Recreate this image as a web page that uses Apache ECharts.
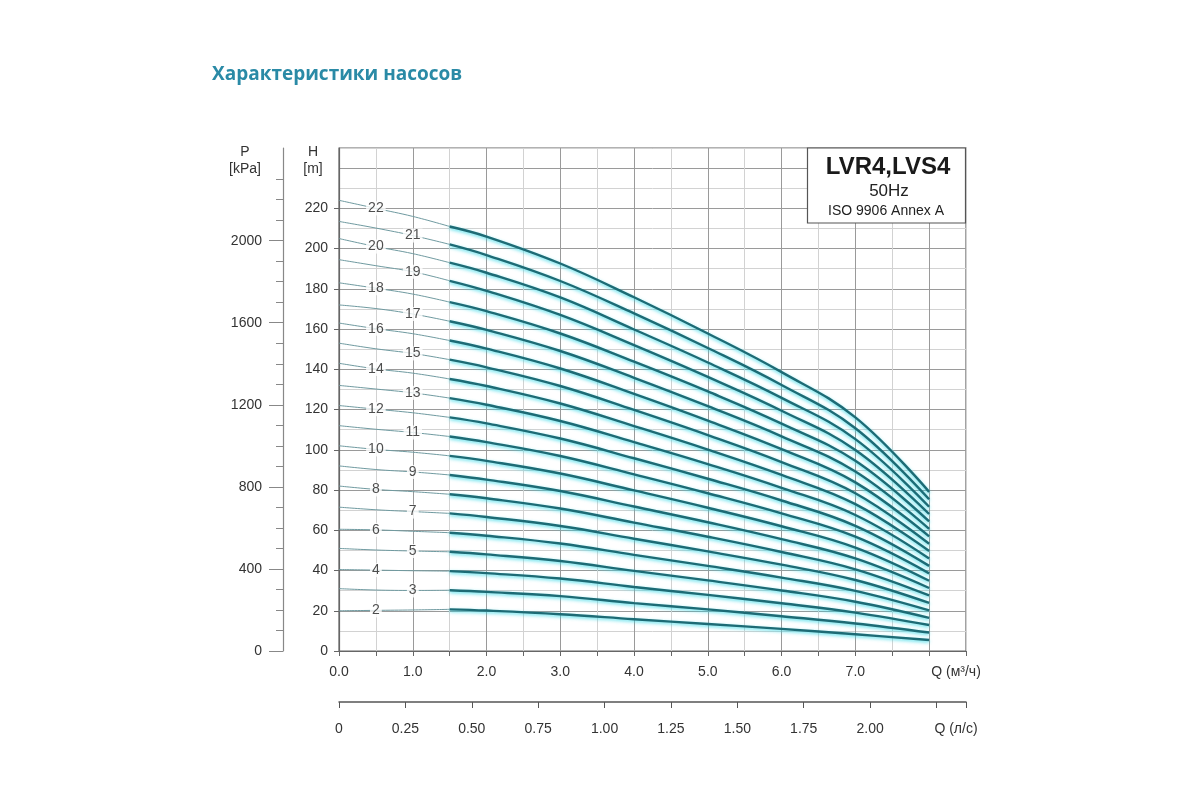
<!DOCTYPE html>
<html>
<head>
<meta charset="utf-8">
<script src="https://cdn.jsdelivr.net/npm/echarts@6/dist/echarts.min.js"></script>
<style>html,body{margin:0;padding:0;background:#fff}#c{width:1200px;height:800px}</style>
</head>
<body>
<div id="c"></div>
<script>
// Flow points (m³/h)
const flowQ = [0, 0.5, 1, 1.5, 2, 3, 4, 5, 6, 7, 8];
// Head (m) per number of stages at the flow points above
const h2  = [20, 20.2, 20.4, 20.7, 20.1, 18.3, 15.8, 13.4, 11.0, 8.3, 5.5];
const h3  = [31, 30.3, 30.1, 30.2, 29.4, 27.3, 23.8, 20.7, 17.3, 13.7, 9.2];
const h4  = [40.5, 40.2, 39.9, 39.7, 38.7, 36.0, 31.8, 27.9, 23.7, 19.1, 12.9];
const h5  = [51, 50.2, 49.7, 49.3, 48.0, 44.7, 39.8, 35.1, 30.1, 24.5, 16.5];
const h6  = [60.5, 60.2, 59.5, 58.8, 57.3, 53.4, 47.8, 42.3, 36.5, 29.9, 20.2];
const h7  = [71.5, 70.2, 69.3, 68.4, 66.6, 62.1, 55.8, 49.5, 42.9, 35.3, 23.9];
const h8  = [82, 80.3, 79.2, 77.9, 75.9, 70.8, 63.8, 56.8, 49.2, 40.6, 27.6];
const h9  = [92, 90.2, 89.0, 87.5, 85.2, 79.5, 71.8, 64.0, 55.6, 46.0, 31.3];
const h10 = [102, 100.2, 98.8, 97.0, 94.5, 88.2, 79.8, 71.2, 62.0, 51.4, 34.9];
const h11 = [112, 110.2, 108.6, 106.6, 103.8, 96.9, 87.8, 78.4, 68.4, 56.8, 38.6];
const h12 = [122, 120.2, 118.4, 116.1, 113.1, 105.6, 95.8, 85.6, 74.8, 62.2, 42.3];
const h13 = [132, 130.2, 128.3, 125.7, 122.4, 114.3, 103.8, 92.9, 81.1, 67.6, 46.0];
const h14 = [143, 140.2, 138.1, 135.2, 131.7, 123.0, 111.8, 100.1, 87.5, 73.0, 49.7];
const h15 = [153, 150.2, 147.9, 144.8, 141.0, 131.7, 119.8, 107.3, 93.9, 78.4, 53.3];
const h16 = [163, 160.2, 157.7, 154.3, 150.3, 140.4, 127.8, 114.5, 100.3, 83.8, 57.0];
const h17 = [172, 170.2, 167.5, 163.9, 159.6, 149.1, 135.8, 121.7, 106.7, 89.2, 60.7];
const h18 = [183, 180.3, 177.4, 173.4, 168.9, 157.8, 143.8, 129.0, 113.0, 94.5, 64.4];
const h19 = [194.5, 191.5, 188.5, 184, 179, 167, 152, 136.2, 119.4, 99.9, 68.1];
const h20 = [205, 201, 197.5, 193, 188, 175.7, 159.8, 143.4, 125.8, 105.3, 71.7];
const h21 = [213.5, 210.2, 206.5, 202.1, 196.8, 183.9, 167.8, 150.6, 132.2, 110.7, 75.4];
const h22 = [224, 220, 216, 211, 206, 192.6, 175.8, 157.8, 138.6, 116.1, 79.1];
const stages = [2, 3, 4, 5, 6, 7, 8, 9, 10, 11, 12, 13, 14, 15, 16, 17, 18, 19, 20, 21, 22];
const curves = [h2, h3, h4, h5, h6, h7, h8, h9, h10, h11, h12, h13, h14, h15, h16, h17, h18, h19, h20, h21, h22];

// Tick labels
const hTicks = [0, 20, 40, 60, 80, 100, 120, 140, 160, 180, 200, 220];
const pTicks = [0, 400, 800, 1200, 1600, 2000];
const pMinorTicks = [100, 200, 300, 500, 600, 700, 900, 1000, 1100, 1300, 1400, 1500, 1700, 1800, 1900, 2100, 2200, 2300];
const titleText = 'Характеристики насосов';
const boxLines = ['LVR4,LVS4', '50Hz', 'ISO 9906 Annex A'];

const H_MAX = 250;               // m
const KPA_PER_M = 1 / 0.10197;   // kPa per metre of water
const P_MAX = H_MAX * KPA_PER_M;
const Q_MAX = 8.5;               // m³/h
const QLS_MAX = Q_MAX / 3.6;     // l/s
const splitFrom = 3;             // index of Q = 1.5 where the solid part starts

const FONT = '"Liberation Sans", Arial, sans-serif';
const FS = 14;
const series = [];
curves.forEach((h) => {
  const pts = flowQ.map((q, i) => [q, h[i]]);
  series.push({
    type: 'line', xAxisIndex: 0, yAxisIndex: 0, smooth: 0.4, symbol: 'none', silent: true, z: 2,
    lineStyle: { color: '#6f9aa0', width: 1 },
    data: pts.slice(0, splitFrom + 1)
  });
  series.push({
    type: 'line', xAxisIndex: 0, yAxisIndex: 0, smooth: 0.4, symbol: 'none', silent: true, z: 3,
    lineStyle: { color: '#1d6b75', width: 2.4, shadowColor: 'rgba(40,215,230,0.8)', shadowBlur: 3.5, shadowOffsetY: 1.5 },
    data: pts.slice(splitFrom)
  });
});
series.push({
  type: 'scatter', xAxisIndex: 0, yAxisIndex: 0, symbol: 'circle', symbolSize: 1, silent: true, z: 6,
  itemStyle: { color: 'rgba(0,0,0,0)' },
  label: {
    show: true, position: 'inside', formatter: p => p.data[2],
    backgroundColor: '#fff', padding: [0, 2], fontSize: FS, color: '#222', fontFamily: FONT
  },
  data: curves.map((h, k) => {
    const i = stages[k] % 2 === 0 ? 1 : 2;
    return [flowQ[i], h[i], String(stages[k])];
  })
});

const labelStyle = { fontSize: FS, color: '#333', fontFamily: FONT };

const option = {
  animation: false,
  backgroundColor: '#fff',
  title: {
    text: titleText, left: 207, top: 60,
    textStyle: { fontSize: 19, fontWeight: 'bold', color: '#2a8aa6', fontFamily: '"Open Sans", sans-serif' }
  },
  grid: [
    { left: 339, right: 234, top: 148, bottom: 149, show: true, borderColor: '#666', borderWidth: 1.2 },
    { left: 339, right: 234, top: 700, height: 2 }
  ],
  xAxis: [
    {
      gridIndex: 0, type: 'value', min: 0, max: Q_MAX, interval: 0.5,
      axisLine: { lineStyle: { color: '#666', width: 1.2 } },
      axisTick: { length: 5, lineStyle: { color: '#666' } },
      axisLabel: Object.assign({ margin: 14, formatter: v => (Number.isInteger(v) && v < 8) ? v.toFixed(1) : '' }, labelStyle),
      splitLine: { show: true, lineStyle: { color: ['#9a9a9a', '#d2d2d2'], width: 1 } },
      name: 'Q (м³/ч)', nameLocation: 'end', nameGap: -10,
      nameTextStyle: Object.assign({ align: 'center', verticalAlign: 'top', padding: [14, 0, 0, 0] }, labelStyle)
    },
    {
      gridIndex: 1, type: 'value', min: 0, max: QLS_MAX, interval: 0.25, position: 'bottom',
      axisLine: { lineStyle: { color: '#555', width: 1.5 } },
      axisTick: { length: 6, lineStyle: { color: '#555' } },
      axisLabel: Object.assign({ margin: 20, formatter: v => v === 0 ? '0' : (v <= 2.001 ? v.toFixed(2) : '') }, labelStyle),
      splitLine: { show: false },
      name: 'Q (л/с)', nameLocation: 'end', nameGap: -10,
      nameTextStyle: Object.assign({ align: 'center', verticalAlign: 'top', padding: [20, 0, 0, 0] }, labelStyle)
    }
  ],
  yAxis: [
    {
      gridIndex: 0, type: 'value', min: 0, max: H_MAX, interval: 10, position: 'left',
      axisLine: { show: true, lineStyle: { color: '#666', width: 1.2 } },
      axisTick: { show: false },
      axisLabel: Object.assign({ margin: 11, formatter: v => hTicks.includes(v) ? String(v) : '' }, labelStyle),
      splitLine: { show: true, lineStyle: { color: ['#9a9a9a', '#d2d2d2'], width: 1 } }
    },
    {
      gridIndex: 0, type: 'value', min: 0, max: H_MAX, interval: 20, position: 'left',
      axisLine: { show: false },
      axisTick: { show: true, length: 5, lineStyle: { color: '#666' }, customValues: hTicks },
      axisLabel: { show: false },
      splitLine: { show: false }
    },
    {
      gridIndex: 0, type: 'value', min: 0, max: P_MAX, interval: 400, position: 'left', offset: 56,
      axisLine: { show: true, lineStyle: { color: '#888', width: 1.2 } },
      axisTick: { show: true, length: 14, lineStyle: { color: '#888' }, customValues: pTicks },
      axisLabel: Object.assign({ margin: 21, customValues: pTicks, formatter: v => String(Math.round(v)) }, labelStyle),
      splitLine: { show: false }
    },
    {
      gridIndex: 0, type: 'value', min: 0, max: P_MAX, interval: 100, position: 'left', offset: 56,
      axisLine: { show: false },
      axisTick: { show: true, length: 7, lineStyle: { color: '#888' }, customValues: pMinorTicks },
      axisLabel: { show: false },
      splitLine: { show: false }
    },
    { gridIndex: 1, type: 'value', show: false, min: 0, max: 1 }
  ],
  graphic: [
    { type: 'text', z: 50, style: { text: 'P', x: 245, y: 152, textAlign: 'center', textVerticalAlign: 'middle', font: FS + 'px ' + FONT, fill: '#333' } },
    { type: 'text', z: 50, style: { text: '[kPa]', x: 245, y: 169, textAlign: 'center', textVerticalAlign: 'middle', font: FS + 'px ' + FONT, fill: '#333' } },
    { type: 'text', z: 50, style: { text: 'H', x: 313, y: 152, textAlign: 'center', textVerticalAlign: 'middle', font: FS + 'px ' + FONT, fill: '#333' } },
    { type: 'text', z: 50, style: { text: '[m]', x: 313, y: 169, textAlign: 'center', textVerticalAlign: 'middle', font: FS + 'px ' + FONT, fill: '#333' } },
    { type: 'rect', z: 50, shape: { x: 807.5, y: 148, width: 158, height: 75 }, style: { fill: '#fff', stroke: '#555', lineWidth: 1.2 } },
    { type: 'text', z: 51, style: { text: boxLines[0], x: 888, y: 167, textAlign: 'center', textVerticalAlign: 'middle', font: 'bold 24px ' + FONT, fill: '#1a1a1a' } },
    { type: 'text', z: 51, style: { text: boxLines[1], x: 889, y: 191, textAlign: 'center', textVerticalAlign: 'middle', font: '17px ' + FONT, fill: '#222' } },
    { type: 'text', z: 51, style: { text: boxLines[2], x: 886, y: 211, textAlign: 'center', textVerticalAlign: 'middle', font: '14px ' + FONT, fill: '#222' } }
  ],
  series: series
};

const chart = echarts.init(document.getElementById('c'), null, { renderer: 'canvas' });
chart.setOption(option);
</script>
</body>
</html>
